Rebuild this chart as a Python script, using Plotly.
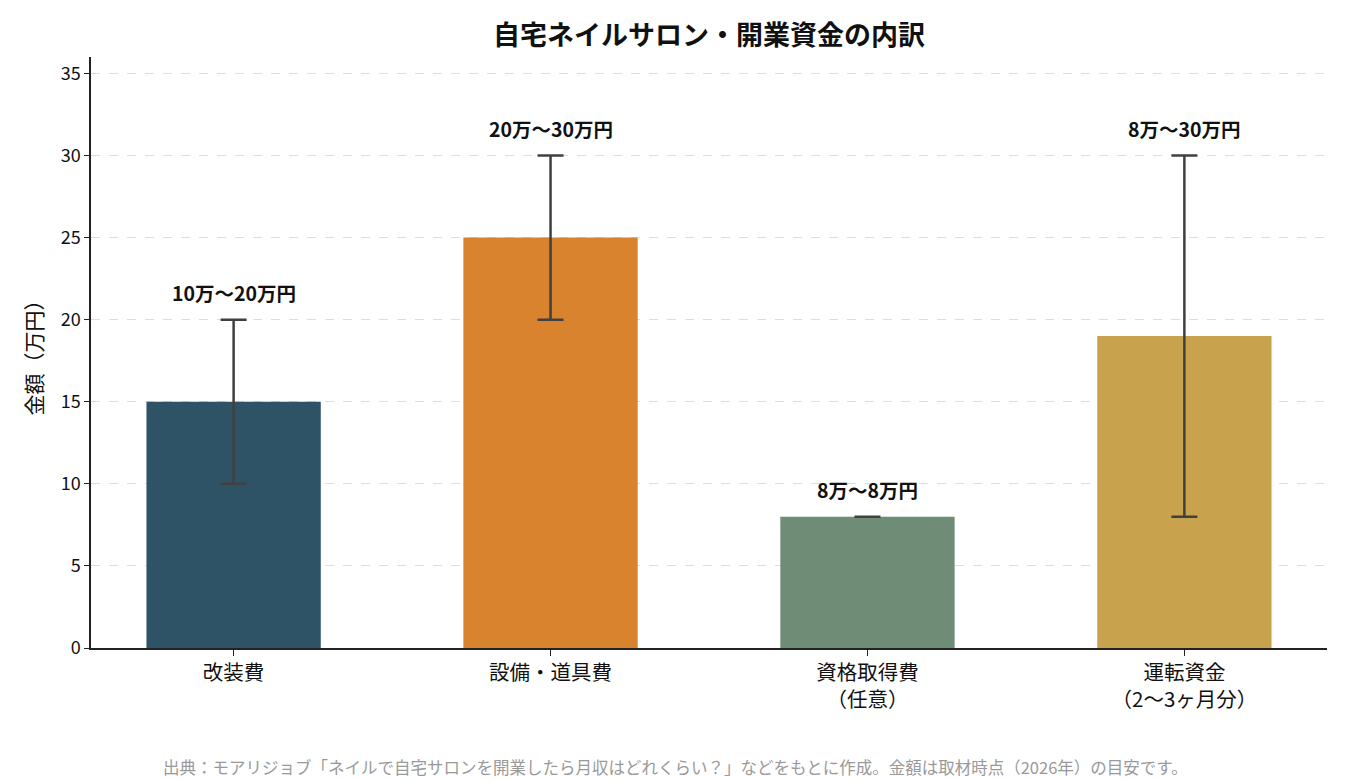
import plotly.graph_objects as go

# データ（万円）
categories = ["改装費", "設備・道具費", "資格取得費<br>（任意）", "運転資金<br>（2〜3ヶ月分）"]
mid_values = [15, 25, 8, 19]
low_values = [10, 20, 8, 8]
high_values = [20, 30, 8, 30]
range_labels = ["10万〜20万円", "20万〜30万円", "8万〜8万円", "8万〜30万円"]
bar_colors = ["#2F5366", "#D9832E", "#6E8C76", "#C8A24C"]

FONT = "Noto Sans CJK JP"

err_plus = [h - m for h, m in zip(high_values, mid_values)]
err_minus = [m - l for m, l in zip(mid_values, low_values)]

fig = go.Figure()
fig.add_bar(
    x=categories,
    y=mid_values,
    marker=dict(color=bar_colors, line=dict(width=0)),
    width=0.55,
    error_y=dict(
        type="data",
        symmetric=False,
        array=err_plus,
        arrayminus=err_minus,
        color="#404040",
        thickness=2.5,
        width=13,
    ),
    showlegend=False,
)

# 範囲ラベル
for cat, hi, lab in zip(categories, high_values, range_labels):
    fig.add_annotation(
        x=cat, y=hi, text=f"<b>{lab}</b>", showarrow=False,
        yshift=27, font=dict(family=FONT, size=19.5, color="#111111"),
    )

# 出典（図全体の中央）
fig.add_annotation(
    text="出典：モアリジョブ「ネイルで自宅サロンを開業したら月収はどれくらい？」などをもとに作成。金額は取材時点（2026年）の目安です。",
    xref="paper", yref="paper", x=0.4725, y=-0.202, yanchor="middle",
    showarrow=False, font=dict(family=FONT, size=16.5, color="#999999"),
)

fig.update_layout(
    width=1350, height=780,
    margin=dict(l=91, r=23, t=57, b=132),
    paper_bgcolor="white", plot_bgcolor="white",
    font=dict(family=FONT, size=18, color="#111111"),
    title=dict(
        text="<b>自宅ネイルサロン・開業資金の内訳</b>",
        xref="paper", x=0.5, xanchor="center", y=0.955, yanchor="middle",
        font=dict(family=FONT, size=27, color="#111111"),
    ),
)

fig.update_xaxes(
    range=[-0.45, 3.45],
    showline=True, linecolor="#222222", linewidth=1.5,
    ticks="outside", ticklen=6, tickcolor="#222222",
    tickfont=dict(family=FONT, size=20.5),
    showgrid=False,
)
fig.update_yaxes(
    range=[0, 36], dtick=5,
    showline=True, linecolor="#222222", linewidth=1.5,
    ticks="outside", ticklen=5, tickcolor="#222222",
    tickfont=dict(family=FONT, size=18),
    showgrid=True, gridcolor="#DDDDDD", griddash="dash", gridwidth=1,
    zeroline=False,
    title=dict(text="金額（万円）", font=dict(family=FONT, size=21), standoff=12),
)

fig.write_html(
    "out.html",
    config={"displayModeBar": False},
    post_script="document.body.style.margin='0';",
)
